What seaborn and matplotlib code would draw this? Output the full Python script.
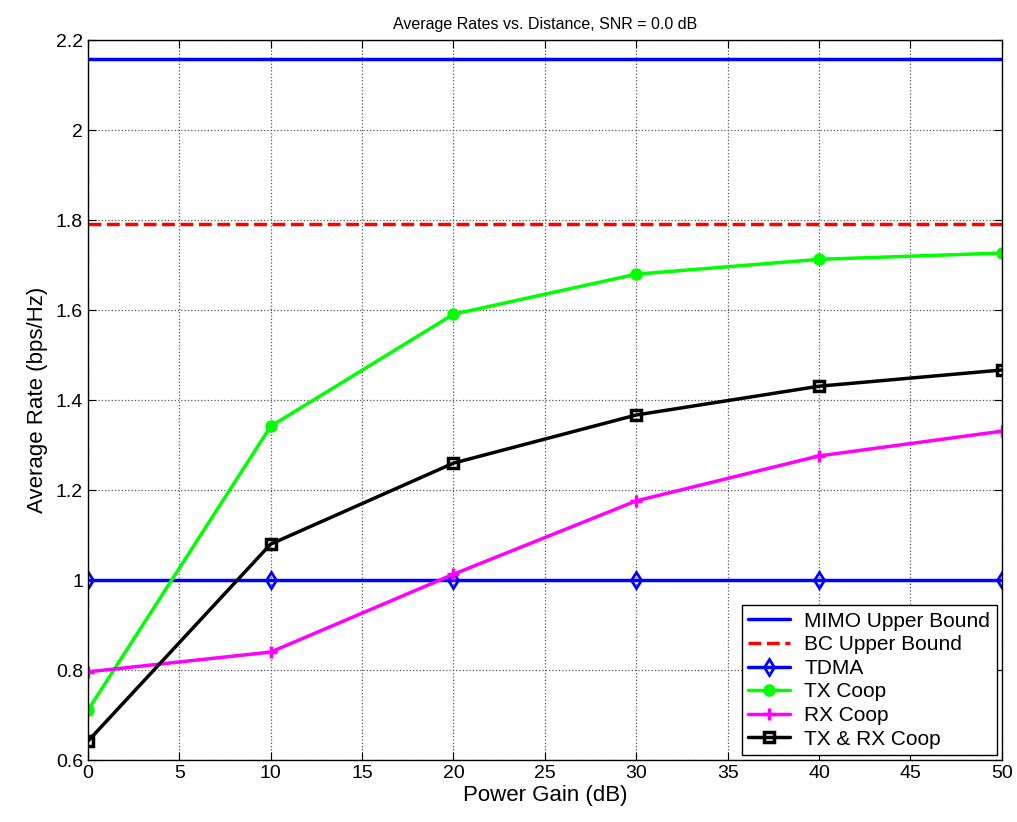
import matplotlib
matplotlib.use("Agg")
import matplotlib.pyplot as plt
import seaborn as sns
import pandas as pd

# data
gain_db = [0, 10, 20, 30, 40, 50]
mimo_bound = [2.158, 2.158, 2.158, 2.158, 2.158, 2.158]
bc_bound = [1.791, 1.791, 1.791, 1.791, 1.791, 1.791]
tdma = [1.0, 1.0, 1.0, 1.0, 1.0, 1.0]
tx_coop = [0.711, 1.342, 1.591, 1.680, 1.713, 1.727]
rx_coop = [0.796, 0.840, 1.013, 1.176, 1.276, 1.331]
txrx_coop = [0.642, 1.080, 1.260, 1.367, 1.431, 1.467]

sns.set_style("white")
plt.rcParams['font.family'] = ['Liberation Sans', 'DejaVu Sans']
plt.rcParams['text.color'] = 'black'
plt.rcParams['axes.labelcolor'] = 'black'

fig = plt.figure(figsize=(10.17, 8.22), dpi=100)
ax = fig.add_axes([0.0865, 0.0754, 0.8985, 0.8756])

series = [
    ("MIMO Upper Bound", mimo_bound, "#0000ff", "-", None, 8, {}),
    ("BC Upper Bound", bc_bound, "#ff0000", "--", None, 8, {}),
    ("TDMA", tdma, "#0000ff", "-", "d", 8, dict(markerfacecolor="none", markeredgewidth=2)),
    ("TX Coop", tx_coop, "#00ff00", "-", "o", 9, dict(markeredgewidth=0)),
    ("RX Coop", rx_coop, "#ff00ff", "-", "+", 9, dict(markeredgewidth=2.5)),
    ("TX & RX Coop", txrx_coop, "#000000", "-", "s", 7.5, dict(markerfacecolor="none", markeredgewidth=2.5)),
]

for name, vals, col, ls, mk, ms, extra in series:
    df = pd.DataFrame({"gain": gain_db, "rate": vals})
    sns.lineplot(data=df, x="gain", y="rate", ax=ax, color=col, linestyle=ls,
                 linewidth=2.5, marker=mk, markersize=ms, markeredgecolor=col,
                 label=name, **extra)

ax.set_xlim(0, 50)
ax.set_ylim(0.6, 2.2)
ax.set_xticks(range(0, 51, 5))
ax.set_yticks([0.6, 0.8, 1.0, 1.2, 1.4, 1.6, 1.8, 2.0, 2.2])
ax.set_yticklabels(["0.6", "0.8", "1", "1.2", "1.4", "1.6", "1.8", "2", "2.2"])
ax.tick_params(direction="in", length=6, labelsize=14, colors="black",
               top=True, right=True, bottom=True, left=True)
ax.grid(True, linestyle=":", color="#555555", linewidth=0.9)
for sp in ax.spines.values():
    sp.set_color("black")
    sp.set_linewidth(1)

ax.set_xlabel("Power Gain (dB)", fontsize=16, labelpad=2)
ax.set_ylabel("Average Rate (bps/Hz)", fontsize=16, labelpad=6)
ax.set_title("Average Rates vs. Distance, SNR = 0.0 dB", fontsize=11.5, pad=8)

leg = ax.legend(loc="lower right", fontsize=15, frameon=True, fancybox=False,
                edgecolor="black", framealpha=1, borderpad=0.3, labelspacing=0.22,
                handlelength=2.0, handletextpad=0.7, borderaxespad=0.25)
leg.get_frame().set_linewidth(1)

fig.savefig("out.png", dpi=100)
